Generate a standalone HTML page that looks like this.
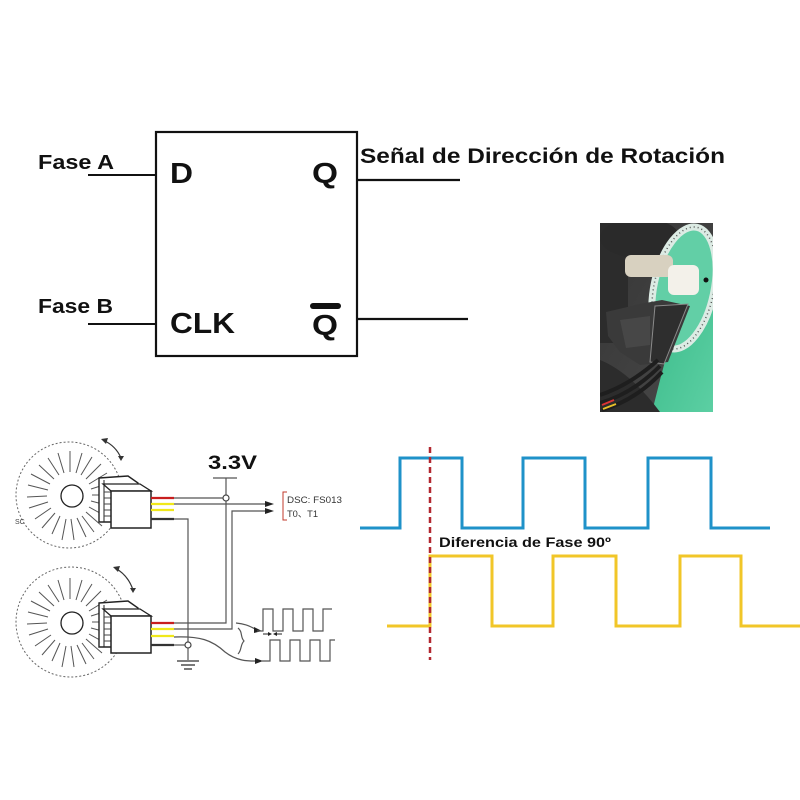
<!DOCTYPE html>
<html>
<head>
<meta charset="utf-8">
<style>
html,body{margin:0;padding:0;background:#fff;}
svg{display:block;}
text{font-family:"Liberation Sans",sans-serif;}
</style>
</head>
<body>
<svg width="800" height="800" viewBox="0 0 800 800" xmlns="http://www.w3.org/2000/svg">
<defs>
<clipPath id="ph"><rect x="600" y="223" width="113" height="189"/></clipPath>
<linearGradient id="dk" x1="0" y1="0" x2="1" y2="1">
<stop offset="0" stop-color="#353535"/><stop offset="1" stop-color="#4a4a4a"/>
</linearGradient>
<linearGradient id="gr" x1="0" y1="0" x2="1" y2="1">
<stop offset="0" stop-color="#37b987"/><stop offset="1" stop-color="#5ccfa3"/>
</linearGradient>
</defs>
<rect width="800" height="800" fill="#fff"/>

<!-- Flip-flop -->
<rect x="156" y="132" width="201" height="224" fill="none" stroke="#111" stroke-width="2.2"/>
<line x1="88" y1="175" x2="156" y2="175" stroke="#111" stroke-width="2"/>
<line x1="88" y1="324" x2="156" y2="324" stroke="#111" stroke-width="2"/>
<line x1="357" y1="180" x2="460" y2="180" stroke="#111" stroke-width="2.2"/>
<line x1="357" y1="319" x2="468" y2="319" stroke="#111" stroke-width="2.2"/>
<text x="38" y="169" font-size="20" font-weight="bold" fill="#111" textLength="76" lengthAdjust="spacingAndGlyphs">Fase A</text>
<text x="38" y="313" font-size="20" font-weight="bold" fill="#111" textLength="75" lengthAdjust="spacingAndGlyphs">Fase B</text>
<text x="170" y="183" font-size="29" font-weight="bold" fill="#111" textLength="23" lengthAdjust="spacingAndGlyphs">D</text>
<text x="312" y="183" font-size="29" font-weight="bold" fill="#111" textLength="26" lengthAdjust="spacingAndGlyphs">Q</text>
<text x="170" y="333" font-size="29" font-weight="bold" fill="#111" textLength="65" lengthAdjust="spacingAndGlyphs">CLK</text>
<text x="312" y="335" font-size="29" font-weight="bold" fill="#111" textLength="26" lengthAdjust="spacingAndGlyphs">Q</text>
<rect x="310" y="303" width="31" height="6" rx="3" fill="#111"/>
<text x="360" y="163" font-size="21" font-weight="bold" fill="#111" textLength="365" lengthAdjust="spacingAndGlyphs">Señal de Dirección de Rotación</text>

<!-- Photo -->
<g clip-path="url(#ph)">
<rect x="600" y="223" width="113" height="189" fill="url(#dk)"/>
<rect x="600" y="223" width="28" height="120" fill="#2c2c2c"/>
<ellipse cx="640" cy="238" rx="40" ry="20" fill="#2a2a2a"/>
<path d="M668,300 L713,262 L713,412 L652,412 L660,380 L668,350 Z" fill="url(#gr)"/>
<ellipse cx="684" cy="288" rx="30" ry="62" transform="rotate(12 684 288)" fill="#62cfa6" stroke="#dcebe4" stroke-width="7"/>
<ellipse cx="684" cy="288" rx="30" ry="62" transform="rotate(12 684 288)" fill="none" stroke="#555" stroke-width="1.5" stroke-dasharray="1 3"/>
<rect x="625" y="255" width="48" height="22" rx="6" fill="#d8d1c0"/>
<rect x="668" y="265" width="31" height="30" rx="6" fill="#f3f1ea"/>
<polygon points="606,312 640,304 662,300 690,306 668,362 640,365 620,352 608,336" fill="#3a3a3a"/>
<polygon points="655,306 688,304 664,364 650,362" fill="#2e2e2e" stroke="#8a8a8a" stroke-width="1"/>
<polygon points="620,320 650,316 650,345 626,348" fill="#474747"/>
<path d="M600,360 Q630,372 660,412 L600,412 Z" fill="#2c2c2c"/>
<g stroke="#1e1e1e" stroke-width="4" fill="none">
<path d="M600,395 Q630,385 658,360"/>
<path d="M600,403 Q632,394 660,366"/>
<path d="M602,410 Q636,400 662,372"/>
</g>
<line x1="602" y1="405" x2="614" y2="400" stroke="#d33" stroke-width="2"/>
<line x1="603" y1="409" x2="616" y2="404" stroke="#e8c02a" stroke-width="2"/>
<circle cx="706" cy="280" r="2.5" fill="#111"/>
</g>

<!-- Schematic: disks -->
<g stroke="#666" fill="none">
<circle cx="69" cy="495" r="53" stroke-dasharray="2 2" stroke-width="1"/>
<circle cx="71" cy="622" r="55" stroke-dasharray="2 2" stroke-width="1"/>
</g>
<g stroke="#555" stroke-width="1">
<path d="M92,495L112,495M91,501L110,506M89,507L107,517M86,512L102,526M82,516L94,532M77,518L86,537M71,519L74,540M66,519L62,540M60,516L52,534M55,513L42,528M51,508L35,519M48,502L29,508M47,496L27,497M48,490L28,485M50,484L31,474M54,479L39,465M59,475L48,458M64,473L58,453M70,472L70,451M76,473L82,453M81,475L92,457M86,479L101,464M89,484L107,473M91,489L110,483"/>
</g>
<g stroke="#555" stroke-width="1">
<path d="M92,622L112,622M91,628L110,633M89,634L107,644M86,639L102,653M82,643L94,659M77,645L86,664M71,646L74,667M66,646L62,667M60,643L52,661M55,640L42,655M51,635L35,646M48,629L29,635M47,623L27,624M48,617L28,612M50,611L31,601M54,606L39,592M59,602L48,585M64,600L58,580M70,599L70,578M76,600L82,580M81,602L92,584M86,606L101,591M89,611L107,600M91,616L110,610"/>
</g>
<circle cx="72" cy="496" r="11" fill="#fff" stroke="#222" stroke-width="1.3"/>
<circle cx="72" cy="623" r="11" fill="#fff" stroke="#222" stroke-width="1.3"/>
<text x="15" y="524" font-size="7" fill="#444" font-family="Liberation Sans, sans-serif">SC</text>

<!-- rotation arrows -->
<g stroke="#333" stroke-width="1.2" fill="none">
<path d="M103,440 Q116,446 121,458"/>
<path d="M115,568 Q128,575 133,590"/>
</g>
<polygon points="101,439 108,438 106,444" fill="#333"/>
<polygon points="118,456 124,456 121,461" fill="#333"/>
<polygon points="113,567 120,566 118,572" fill="#333"/>
<polygon points="130,588 136,588 133,593" fill="#333"/>

<!-- sensors -->
<g>
<polygon points="99,478 128,476 138,483 138,522 99,522" fill="#fff" stroke="#222" stroke-width="1.4"/>
<line x1="104" y1="480" x2="104" y2="522" stroke="#222" stroke-width="1"/>
<path d="M104,486H111M104,492H111M104,498H111M104,504H111M104,510H111M104,516H111" stroke="#444" stroke-width="1"/>
<polygon points="111,491 103,484 140,484 151,491" fill="#fff" stroke="#222" stroke-width="1.3"/>
<rect x="111" y="491" width="40" height="37" fill="#fff" stroke="#222" stroke-width="1.5"/>
</g>
<g transform="translate(0,125)">
<polygon points="99,478 128,476 138,483 138,522 99,522" fill="#fff" stroke="#222" stroke-width="1.4"/>
<line x1="104" y1="480" x2="104" y2="522" stroke="#222" stroke-width="1"/>
<path d="M104,486H111M104,492H111M104,498H111M104,504H111M104,510H111M104,516H111" stroke="#444" stroke-width="1"/>
<polygon points="111,491 103,484 140,484 151,491" fill="#fff" stroke="#222" stroke-width="1.3"/>
<rect x="111" y="491" width="40" height="37" fill="#fff" stroke="#222" stroke-width="1.5"/>
</g>

<!-- colored wire stubs -->
<g stroke-width="2.2">
<line x1="151" y1="498" x2="174" y2="498" stroke="#c81e1e"/>
<line x1="151" y1="504" x2="174" y2="504" stroke="#f0e81a"/>
<line x1="151" y1="510" x2="174" y2="510" stroke="#f0e81a"/>
<line x1="151" y1="519" x2="174" y2="519" stroke="#333"/>
<line x1="151" y1="623" x2="174" y2="623" stroke="#c81e1e"/>
<line x1="151" y1="629" x2="174" y2="629" stroke="#f0e81a"/>
<line x1="151" y1="636" x2="174" y2="636" stroke="#f0e81a"/>
<line x1="151" y1="645" x2="174" y2="645" stroke="#333"/>
</g>

<!-- wiring -->
<g stroke="#555" stroke-width="1.2" fill="none">
<path d="M174,498H223"/>
<path d="M213,478H237M226,478V495M226,501V623H174"/>
<path d="M174,504H268"/>
<path d="M174,629H232V511H268"/>
<path d="M174,519H188V642"/>
<path d="M174,645H185"/>
<path d="M188,648V660"/>
<path d="M174,637 C200,636 212,640 225,652 C238,662 250,661 258,661"/>
<path d="M236,623 C248,624 252,628 258,630"/>
<path d="M238,628 C243,632 240,637 244,641 C240,645 242,650 238,654"/>
</g>
<circle cx="226" cy="498" r="3" fill="#fff" stroke="#444" stroke-width="1.2"/>
<circle cx="188" cy="645" r="3" fill="#fff" stroke="#444" stroke-width="1.2"/>
<g stroke="#333" stroke-width="1.3">
<line x1="177" y1="661" x2="199" y2="661"/>
<line x1="181" y1="665" x2="195" y2="665"/>
<line x1="184" y1="669" x2="192" y2="669"/>
</g>
<polygon points="274,504 265,501 265,507" fill="#222"/>
<polygon points="274,511 265,508 265,514" fill="#222"/>
<polygon points="262,631 254,627 254,633" fill="#222"/>
<polygon points="263,661 255,658 255,664" fill="#222"/>
<text x="208" y="469" font-size="19" font-weight="bold" fill="#111" textLength="49" lengthAdjust="spacingAndGlyphs">3.3V</text>
<path d="M287,492H283V520H287" stroke="#c0392b" stroke-width="1" fill="none"/>
<text x="287" y="503" font-size="9.5" fill="#333" font-family="Liberation Mono, monospace" textLength="55" lengthAdjust="spacingAndGlyphs">DSC: FS013</text>
<text x="287" y="517" font-size="9.5" fill="#333" font-family="Liberation Mono, 'Noto Sans CJK SC', monospace" textLength="31" lengthAdjust="spacingAndGlyphs">T0、T1</text>

<!-- small waveforms -->
<g stroke="#555" stroke-width="1.2" fill="none">
<path d="M257,631H263V609H273V631H283V609H293V631H303V609H313V631H323V609H332"/>
<path d="M262,661H270V640H280V661H290V640H300V661H310V640H320V661H330V640H335"/>
</g>
<g stroke="#222" stroke-width="1">
<line x1="263" y1="634" x2="271" y2="634"/>
<line x1="274" y1="634" x2="282" y2="634"/>
</g>
<polygon points="272,634 268,632 268,636" fill="#222"/>
<polygon points="273,634 277,632 277,636" fill="#222"/>

<!-- big waveforms -->
<path d="M360,528H400V458H462V528H523V458H585V528H648V458H711V528H770" fill="none" stroke="#1f92c9" stroke-width="3"/>
<path d="M387,626H430V556H492V626H553V556H616V626H680V556H741V626H800" fill="none" stroke="#f1c628" stroke-width="3"/>
<line x1="430" y1="447" x2="430" y2="660" stroke="#b22830" stroke-width="2.5" stroke-dasharray="6 4"/>
<text x="439" y="547" font-size="14" font-weight="bold" fill="#111" textLength="172" lengthAdjust="spacingAndGlyphs">Diferencia de Fase 90º</text>
</svg>
</body>
</html>
